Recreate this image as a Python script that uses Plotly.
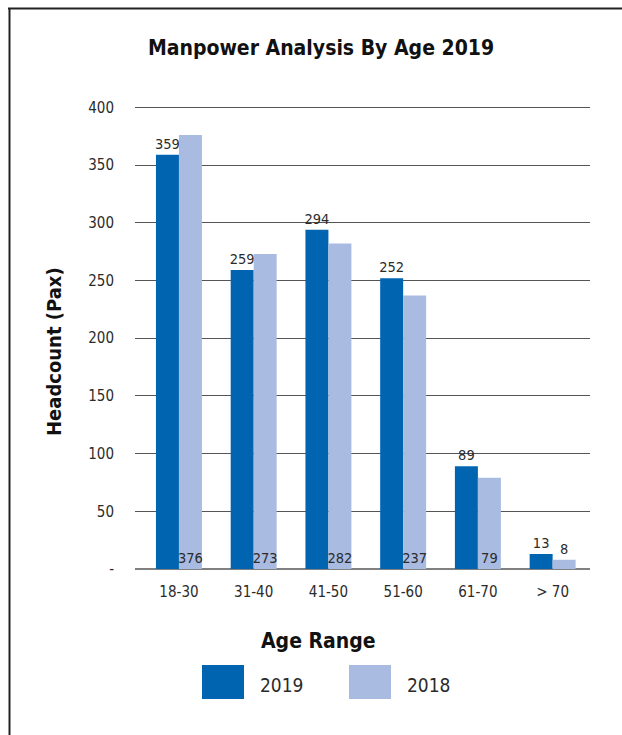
import plotly.graph_objects as go

# Headcount by age band, two years
age_ranges = ["18-30", "31-40", "41-50", "51-60", "61-70", "> 70"]
headcount_2019 = [359, 259, 294, 252, 89, 13]
headcount_2018 = [376, 273, 282, 237, 79, 8]
y_tick_values = [0, 50, 100, 150, 200, 250, 300, 350, 400]
y_tick_labels = ["-", "50", "100", "150", "200", "250", "300", "350", "400"]

COLOR_2019 = "#0064B1"
COLOR_2018 = "#A9BBE1"
TEXT = "#2b2b2b"
FONT = "DejaVu Sans Condensed, Roboto, sans-serif"

W, H = 622, 735
L, R, T, B = 135, 32, 105, 166
PW, PH = W - L - R, H - T - B


def px_x(x):
    return (x - L) / PW


def px_y(y):
    return 1 - (y - T) / PH


fig = go.Figure()
fig.add_trace(go.Bar(
    x=age_ranges, y=headcount_2019, name="2019",
    marker=dict(color=COLOR_2019, line=dict(width=0)),
    text=[str(v) for v in headcount_2019], textposition="outside",
    textangle=0,
    textfont=dict(family=FONT, size=14.5, color=TEXT), cliponaxis=False,
))
fig.add_trace(go.Bar(
    x=age_ranges, y=headcount_2018, name="2018",
    marker=dict(color=COLOR_2018, line=dict(width=0)),
    text=[str(v) for v in headcount_2018],
    textposition=["inside" if v > 30 else "outside" for v in headcount_2018],
    insidetextanchor="start", textangle=0,
    textfont=dict(family=FONT, size=14.5, color=TEXT), cliponaxis=False,
))

fig.update_layout(
    width=W, height=H,
    margin=dict(l=L, r=R, t=T, b=B),
    paper_bgcolor="white", plot_bgcolor="white",
    barmode="group", bargap=0.385, bargroupgap=0,
    showlegend=False,
    uniformtext=dict(minsize=14.5, mode="show"),
    font=dict(family=FONT, color=TEXT),
    title=dict(
        text="<b>Manpower Analysis By Age 2019</b>",
        font=dict(family=FONT, size=21, color="#111"),
        x=321 / W, xanchor="center", y=1 - 48 / H, yanchor="middle",
    ),
    xaxis=dict(
        range=[-0.588, 5.5], showgrid=False, showline=False,
        ticks="", tickfont=dict(family=FONT, size=15, color=TEXT),
        ticklabelstandoff=12,
    ),
    yaxis=dict(
        range=[0, 402], tickvals=y_tick_values, ticktext=y_tick_labels,
        showgrid=True, gridcolor="#555", gridwidth=1.2,
        zeroline=True, zerolinecolor="#808080", zerolinewidth=2,
        showline=False, ticks="",
        tickfont=dict(family=FONT, size=15, color=TEXT),
        ticklabelstandoff=20,
    ),
)

# Axis titles
fig.add_annotation(
    text="<b>Headcount (Pax)</b>", textangle=-90, showarrow=False,
    xref="paper", yref="paper", x=px_x(54), y=px_y(352),
    xanchor="center", yanchor="middle",
    font=dict(family=FONT, size=20, color="#111"),
)
fig.add_annotation(
    text="<b>Age Range</b>", showarrow=False,
    xref="paper", yref="paper", x=px_x(318), y=px_y(641),
    xanchor="center", yanchor="middle",
    font=dict(family=FONT, size=21, color="#111"),
)

# Legend with large square swatches
legend_items = [("2019", COLOR_2019, 202), ("2018", COLOR_2018, 349)]
for label, color, x0 in legend_items:
    fig.add_shape(
        type="rect", xref="paper", yref="paper",
        x0=px_x(x0), x1=px_x(x0 + 42), y0=px_y(699), y1=px_y(665),
        fillcolor=color, line=dict(width=0),
    )
    fig.add_annotation(
        text=label, showarrow=False, xref="paper", yref="paper",
        x=px_x(x0 + 56), y=px_y(685), xanchor="left", yanchor="middle",
        font=dict(family=FONT, size=19, color=TEXT),
    )

# Frame along the top and left edges
frame = dict(color="#222", width=2)
fig.add_shape(type="line", xref="paper", yref="paper",
              x0=px_x(8), x1=px_x(640), y0=px_y(8.5), y1=px_y(8.5), line=frame)
fig.add_shape(type="line", xref="paper", yref="paper",
              x0=px_x(9.5), x1=px_x(9.5), y0=px_y(8), y1=px_y(760), line=frame)

fig.write_html("out.html")
